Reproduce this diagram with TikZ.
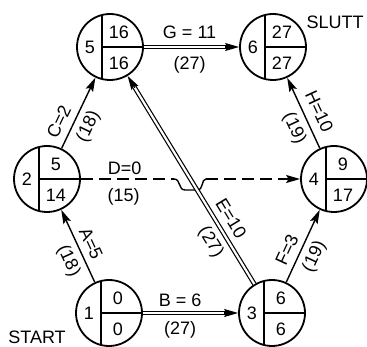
\documentclass[tikz,border=0pt]{standalone}
\usepackage{fontspec}
\setmainfont{Liberation Sans}
\usetikzlibrary{arrows.meta,calc}
\newcommand\evnode[5]{%
  \node[ev] (#1) at (#2) {};
  \draw[inl] ($(#1.center)+(-8,-32)$) -- ($(#1.center)+(-8,32)$);
  \draw[inl] ($(#1.center)+(-8,0)$) -- ($(#1.center)+(33,0)$);
  \node[num] (#1i) at ($(#1.center)+(-20,0)$) {#3};
  \node[num] (#1t) at ($(#1.center)+(9,-15)$) {#4};
  \node[num] (#1b) at ($(#1.center)+(9,16)$) {#5};
}
\begin{document}
\begin{tikzpicture}[x=1pt,y=-1pt,
  ev/.style={circle,draw,line width=1.8pt,minimum size=66pt,inner sep=0pt},
  inl/.style={line width=1.6pt},
  num/.style={font=\fontsize{18}{18}\selectfont,inner sep=0pt},
  lab/.style={font=\fontsize{18}{18}\selectfont,inner sep=0pt,text height=13pt,text depth=0pt},
  arr/.style={line width=1.4pt,-{Stealth[length=14pt,width=8pt,inset=2.5pt]}},
  dbl/.style={line width=1.2pt,double,double distance=2.2pt},
  tipar/.style={line width=1.2pt,-{Stealth[length=14pt,width=8pt,inset=2.5pt]}},
  dsh/.style={line width=1.4pt,dash pattern=on 12pt off 6pt},
]
\useasboundingbox (0,0) rectangle (367,347);

\evnode{n5}{110,47}{5}{16}{16}
\evnode{n6}{273,47}{6}{27}{27}
\evnode{n2}{47,179}{2}{5}{14}
\evnode{n4}{334,179}{4}{9}{17}
\evnode{n1}{109,313}{1}{0}{0}
\evnode{n3}{272,313}{3}{6}{6}

\node[num] (slutt) at (335,22) {SLUTT};
\node[num] (start) at (37,337) {START};

% single arrows
\draw[arr] (n1) -- (n2)
  node[lab,pos=0.46,sloped,above=6pt] (lA) {A=5}
  node[lab,pos=0.38,sloped,below=6pt] (lA2) {(18)};
\draw[arr] (n2) -- (n5)
  node[lab,pos=0.29,sloped,above=7pt] (lC) {C=2}
  node[lab,pos=0.40,sloped,below=6pt] (lC2) {(18)};
\draw[arr] (n3) -- (n4)
  node[lab,pos=0.37,sloped,above=6pt] (lF) {F=3}
  node[lab,pos=0.44,sloped,below=6pt] (lF2) {(19)};
\draw[arr] (n4) -- (n6)
  node[lab,pos=0.43,sloped,above=8pt] (lH) {H=10}
  node[lab,pos=0.37,sloped,below=6pt] (lH2) {(19)};

% dashed D with hop
\coordinate (dL) at (174,179);
\coordinate (dR) at (206,179);
\draw[dsh] (n2) -- (dL)
  node[lab,pos=0.47,above=4pt] (lD) {D=0}
  node[lab,pos=0.46,below=9pt] (lD2) {(15)};
\draw[line width=1.4pt] (dL) .. controls (181,179) and (178,190) .. (185,190)
  -- (197,190) .. controls (204,190) and (201,179) .. (dR);
\draw[dsh,-{Stealth[length=14pt,width=8pt,inset=2.5pt]}] (dR) -- (n4);

% double (critical) arrows
\path (n1) -- (n3) coordinate[pos=1] (Be)
  node[lab,pos=0.39,above=6pt] (lB) {B = 6}
  node[lab,pos=0.39,below=8pt] (lB2) {(27)};
\draw[dbl] (n1) -- ($(Be)!11pt!(n1.center)$);
\draw[tipar] ($(Be)!14pt!(n1.center)$) -- (Be);

\path (n3) -- (n5) coordinate[pos=1] (Ee)
  node[lab,pos=0.28,sloped,above=8pt] (lE) {E=10}
  node[lab,pos=0.24,sloped,below=7pt] (lE2) {(27)};
\draw[dbl] (n3) -- ($(Ee)!11pt!(n3.center)$);
\draw[tipar] ($(Ee)!14pt!(n3.center)$) -- (Ee);

\path (n5) -- (n6) coordinate[pos=1] (Ge)
  node[lab,pos=0.48,above=8pt] (lG) {G = 11}
  node[lab,pos=0.48,below=9pt] (lG2) {(27)};
\draw[dbl] (n5) -- ($(Ge)!11pt!(n5.center)$);
\draw[tipar] ($(Ge)!14pt!(n5.center)$) -- (Ge);
\end{tikzpicture}
\end{document}
